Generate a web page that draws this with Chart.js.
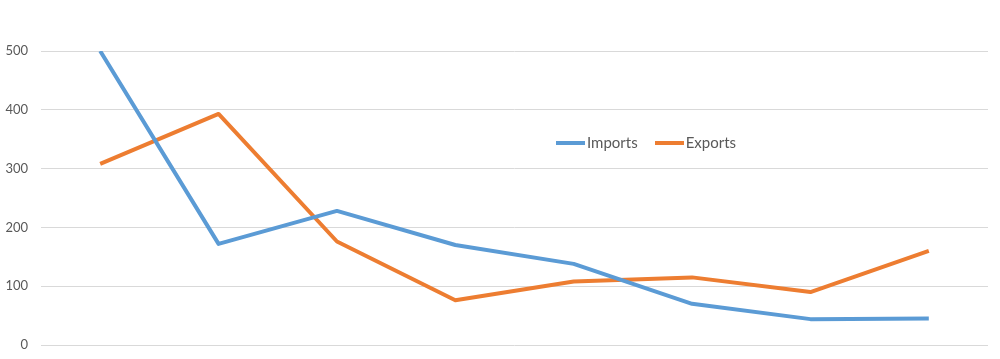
<!DOCTYPE html>
<html lang="en">
<head>
    <meta charset="UTF-8">
    <title>Imports and Exports</title>
    <script src="https://cdn.jsdelivr.net/npm/chart.js"></script>
    <style>
        html, body {
            margin: 0;
            padding: 0;
            background: #ffffff;
        }

        #wrap {
            position: relative;
            width: 1000px;
            height: 359px;
        }

        #legend {
            position: absolute;
            left: 556px;
            top: 133px;
            font-family: Lato, "Open Sans", sans-serif;
            font-size: 15px;
            color: #595959;
            white-space: nowrap;
        }

        #legend span.item {
            display: inline-block;
            margin-right: 17px;
        }

        #legend span.swatch {
            display: inline-block;
            width: 29px;
            height: 4px;
            vertical-align: middle;
            margin-right: 2px;
            position: relative;
            top: -1px;
        }
    </style>
</head>
<body>
    <div id="wrap">
        <canvas id="chart" width="1000" height="359"></canvas>
        <div id="legend">
            <span class="item"><span class="swatch" style="background:#5b9bd5"></span>Imports</span><span class="item"><span class="swatch" style="background:#ed7d31"></span>Exports</span>
        </div>
    </div>

    <script>
        // данные
        const categories = ['1', '2', '3', '4', '5', '6', '7', '8'];
        const imports = [500, 172, 228, 170, 138, 70, 44, 45];
        const exports = [308, 393, 176, 76, 108, 115, 90, 160];
        const yTicks = [0, 100, 200, 300, 400, 500];

        const ctx = document.getElementById('chart').getContext('2d');
        new Chart(ctx, {
            type: 'line',
            data: {
                labels: categories,
                datasets: [{
                    label: 'Imports',
                    data: imports,
                    borderColor: '#5b9bd5',
                    borderWidth: 4,
                    pointRadius: 0,
                    tension: 0,
                    borderJoinStyle: 'round'
                }, {
                    label: 'Exports',
                    data: exports,
                    borderColor: '#ed7d31',
                    borderWidth: 4,
                    pointRadius: 0,
                    tension: 0,
                    borderJoinStyle: 'round'
                }]
            },
            options: {
                responsive: false,
                animation: false,
                layout: {
                    padding: { top: 51, bottom: 14, right: 12, left: 0 }
                },
                plugins: {
                    legend: { display: false },
                    tooltip: { enabled: false }
                },
                scales: {
                    x: {
                        display: false,
                        offset: true
                    },
                    y: {
                        min: 0,
                        max: 500,
                        afterFit: (scale) => { scale.width = 41; },
                        afterBuildTicks: (scale) => {
                            scale.ticks = yTicks.map(v => ({ value: v }));
                        },
                        border: { display: false },
                        grid: {
                            color: '#d9d9d9',
                            lineWidth: 1,
                            drawTicks: true,
                            tickLength: 13,
                            tickColor: 'rgba(0,0,0,0)'
                        },
                        ticks: {
                            padding: 0,
                            color: '#595959',
                            font: { family: 'Lato', size: 13 }
                        }
                    }
                }
            }
        });
    </script>
</body>
</html>
